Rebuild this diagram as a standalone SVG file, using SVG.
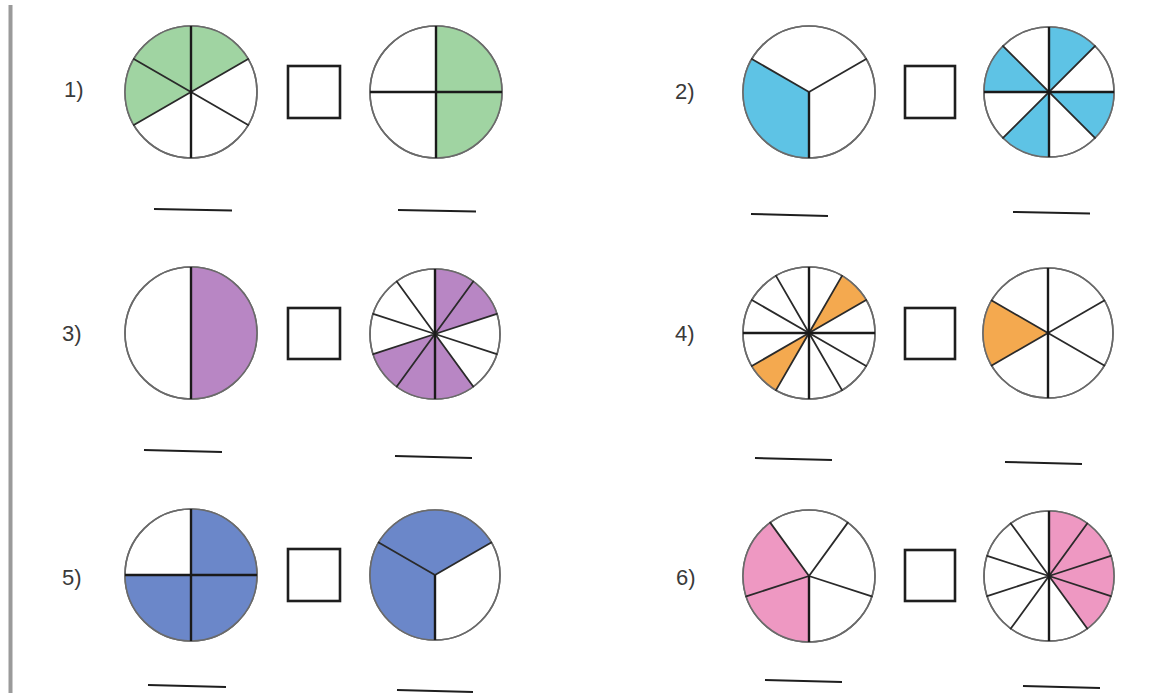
<svg xmlns="http://www.w3.org/2000/svg" width="1150" height="695" viewBox="0 0 1150 695">
<style>
.ring{fill:#ffffff;stroke:#6a6a6a;stroke-width:1.6}
.edge{fill:none;stroke:#6a6a6a;stroke-width:1.6}
.sp{stroke:#2a2a2a;stroke-width:1.8;fill:none;stroke-linecap:round}
.ax{stroke:#1a1a1a;stroke-width:2.4;fill:none}
.box{fill:#ffffff;stroke:#1e1e1e;stroke-width:2.6}
.ul{stroke:#1e1e1e;stroke-width:2}
.lbl{font-family:"Liberation Sans",Arial,sans-serif;font-size:22px;fill:#3a3a3a}
.g{fill:#a0d4a2}.b{fill:#5ec3e5}.p{fill:#b886c4}.o{fill:#f4a94f}.n{fill:#6b87c9}.k{fill:#ee98c2}
</style>
<rect width="1150" height="695" fill="#ffffff"/>
<line x1="10.5" y1="5" x2="10.5" y2="693" stroke="#9a9a9a" stroke-width="4"/>

<g id="labels">
<text class="lbl" x="64" y="97">1)</text>
<text class="lbl" x="675" y="99">2)</text>
<text class="lbl" x="62" y="341">3)</text>
<text class="lbl" x="675" y="341">4)</text>
<text class="lbl" x="62" y="585">5)</text>
<text class="lbl" x="676" y="585">6)</text>
</g>

<g id="pie1a">
<circle class="ring" cx="191" cy="92" r="66"/>
<path class="g" d="M191,92 L248.16,59 A66,66 0 0 0 191,26 A66,66 0 0 0 133.84,125 Z"/>
<circle class="edge" cx="191" cy="92" r="66"/>
<path class="sp" d="M191,92 L248.16,59 M191,92 L133.84,59 M191,92 L133.84,125 M191,92 L248.16,125"/>
<line class="ax" x1="191" y1="26" x2="191" y2="158"/>
</g>
<g id="box1"><rect class="box" x="288" y="66" width="52" height="52"/></g>
<g id="pie1b">
<circle class="ring" cx="436" cy="92" r="66"/>
<path class="g" d="M436,26 A66,66 0 0 1 436,158 Z"/>
<circle class="edge" cx="436" cy="92" r="66"/>
<line class="ax" x1="436" y1="26" x2="436" y2="158"/>
<line class="ax" x1="370" y1="92" x2="502" y2="92"/>
</g>

<g id="pie2a">
<circle class="ring" cx="809" cy="92" r="66"/>
<path class="b" d="M809,92 L751.84,59 A66,66 0 0 0 809,158 Z"/>
<circle class="edge" cx="809" cy="92" r="66"/>
<path class="sp" d="M809,92 L751.84,59 M809,92 L866.16,59"/>
<line class="ax" x1="809" y1="92" x2="809" y2="158"/>
</g>
<g id="box2"><rect class="box" x="905" y="66" width="50" height="52"/></g>
<g id="pie2b">
<circle class="ring" cx="1049" cy="92" r="65"/>
<path class="b" d="M1049,92 L1094.96,46.04 A65,65 0 0 0 1049,27 Z M1049,92 L1003.04,46.04 A65,65 0 0 0 984,92 Z M1049,92 L1003.04,137.96 A65,65 0 0 0 1049,157 Z M1049,92 L1094.96,137.96 A65,65 0 0 0 1114,92 Z"/>
<circle class="edge" cx="1049" cy="92" r="65"/>
<path class="sp" d="M1003.04,46.04 L1094.96,137.96 M1094.96,46.04 L1003.04,137.96"/>
<line class="ax" x1="1049" y1="27" x2="1049" y2="157"/>
<line class="ax" x1="984" y1="92" x2="1114" y2="92"/>
</g>

<g id="pie3a">
<circle class="ring" cx="191" cy="333" r="66"/>
<path class="p" d="M191,267 A66,66 0 0 1 191,399 Z"/>
<circle class="edge" cx="191" cy="333" r="66"/>
<line class="ax" x1="191" y1="267" x2="191" y2="399"/>
</g>
<g id="box3"><rect class="box" x="288" y="308" width="52" height="51"/></g>
<g id="pie3b">
<circle class="ring" cx="435" cy="334" r="65"/>
<path class="p" d="M435,334 L496.82,313.91 A65,65 0 0 0 435,269 Z M435,334 L373.18,354.09 A65,65 0 0 0 473.21,386.59 Z"/>
<circle class="edge" cx="435" cy="334" r="65"/>
<path class="sp" d="M435,334 L473.21,281.41 M435,334 L496.82,313.91 M435,334 L496.82,354.09 M435,334 L473.21,386.59 M435,334 L396.79,386.59 M435,334 L373.18,354.09 M435,334 L373.18,313.91 M435,334 L396.79,281.41"/>
<line class="ax" x1="435" y1="269" x2="435" y2="399"/>
</g>

<g id="pie4a">
<circle class="ring" cx="809" cy="333" r="66"/>
<path class="o" d="M809,333 L866.16,300 A66,66 0 0 0 842,275.84 Z M809,333 L751.84,366 A66,66 0 0 0 776,390.16 Z"/>
<circle class="edge" cx="809" cy="333" r="66"/>
<path class="sp" d="M809,333 L866.16,300 M809,333 L842,275.84 M809,333 L776,275.84 M809,333 L751.84,300 M809,333 L751.84,366 M809,333 L776,390.16 M809,333 L842,390.16 M809,333 L866.16,366"/>
<line class="ax" x1="809" y1="267" x2="809" y2="399"/>
<line class="ax" x1="743" y1="333" x2="875" y2="333"/>
</g>
<g id="box4"><rect class="box" x="905" y="308" width="50" height="51"/></g>
<g id="pie4b">
<circle class="ring" cx="1048" cy="333" r="65"/>
<path class="o" d="M1048,333 L991.71,300.5 A65,65 0 0 0 991.71,365.5 Z"/>
<circle class="edge" cx="1048" cy="333" r="65"/>
<path class="sp" d="M1048,333 L1104.29,300.5 M1048,333 L991.71,300.5 M1048,333 L991.71,365.5 M1048,333 L1104.29,365.5"/>
<line class="ax" x1="1048" y1="268" x2="1048" y2="398"/>
</g>

<g id="pie5a">
<circle class="ring" cx="191" cy="575" r="66"/>
<path class="n" d="M191,575 L191,509 A66,66 0 1 1 125,575 Z"/>
<circle class="edge" cx="191" cy="575" r="66"/>
<line class="ax" x1="191" y1="509" x2="191" y2="641"/>
<line class="ax" x1="125" y1="575" x2="257" y2="575"/>
</g>
<g id="box5"><rect class="box" x="288" y="549" width="52" height="52"/></g>
<g id="pie5b">
<circle class="ring" cx="435" cy="575" r="65"/>
<path class="n" d="M435,575 L491.29,542.5 A65,65 0 1 0 435,640 Z"/>
<circle class="edge" cx="435" cy="575" r="65"/>
<path class="sp" d="M435,575 L491.29,542.5 M435,575 L378.71,542.5"/>
<line class="ax" x1="435" y1="575" x2="435" y2="640"/>
</g>

<g id="pie6a">
<circle class="ring" cx="809" cy="576" r="66"/>
<path class="k" d="M809,576 L770.21,522.6 A66,66 0 0 0 809,642 Z"/>
<circle class="edge" cx="809" cy="576" r="66"/>
<path class="sp" d="M809,576 L871.77,596.4 M809,576 L847.79,522.6 M809,576 L770.21,522.6 M809,576 L746.23,596.4"/>
<line class="ax" x1="809" y1="576" x2="809" y2="642"/>
</g>
<g id="box6"><rect class="box" x="905" y="550" width="50" height="51"/></g>
<g id="pie6b">
<circle class="ring" cx="1049" cy="576" r="65"/>
<path class="k" d="M1049,576 L1087.21,628.59 A65,65 0 0 0 1049,511 Z"/>
<circle class="edge" cx="1049" cy="576" r="65"/>
<path class="sp" d="M1049,576 L1087.21,523.41 M1049,576 L1110.82,555.91 M1049,576 L1110.82,596.09 M1049,576 L1087.21,628.59 M1049,576 L1010.79,628.59 M1049,576 L987.18,596.09 M1049,576 L987.18,555.91 M1049,576 L1010.79,523.41"/>
<line class="ax" x1="1049" y1="511" x2="1049" y2="641"/>
</g>

<g id="answer-lines">
<line class="ul" x1="154" y1="209" x2="232" y2="210.5"/>
<line class="ul" x1="398" y1="210" x2="476" y2="211.5"/>
<line class="ul" x1="751" y1="214" x2="828" y2="216"/>
<line class="ul" x1="1013" y1="212" x2="1090" y2="213.5"/>
<line class="ul" x1="144" y1="450" x2="222" y2="452"/>
<line class="ul" x1="395" y1="456" x2="472" y2="458"/>
<line class="ul" x1="755" y1="458" x2="832" y2="460"/>
<line class="ul" x1="1005" y1="462" x2="1082" y2="464"/>
<line class="ul" x1="148" y1="685" x2="226" y2="687"/>
<line class="ul" x1="397" y1="690" x2="473" y2="692"/>
<line class="ul" x1="765" y1="680" x2="842" y2="682"/>
<line class="ul" x1="1023" y1="686" x2="1100" y2="688"/>
</g>
</svg>
